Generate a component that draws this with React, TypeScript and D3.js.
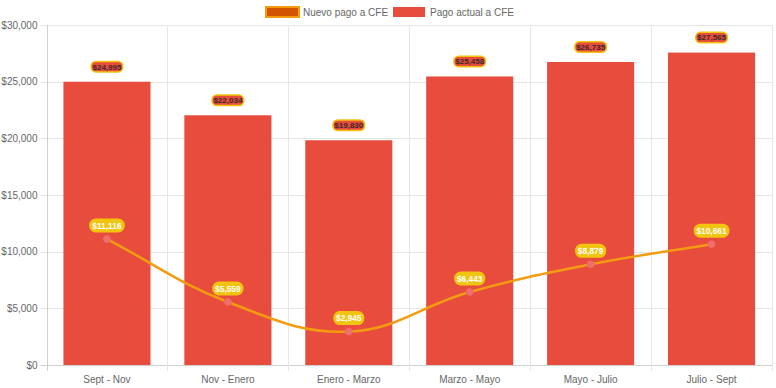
import React from "react";
import * as d3 from "d3";

const categories = ["Sept - Nov", "Nov - Enero", "Enero - Marzo", "Marzo - Mayo", "Mayo - Julio", "Julio - Sept"];
const pagoActual = [24995, 22034, 19830, 25458, 26735, 27565];
const nuevoPago = [11116, 5559, 2945, 6443, 8879, 10661];
const yTicks = [0, 5000, 10000, 15000, 20000, 25000, 30000];
const legendLabels = ["Nuevo pago a CFE", "Pago actual a CFE"];

const W = 776, H = 388;
const left = 46.5, right = 772, top = 25, bottom = 365;
const FONT = "'Liberation Sans', Arial, Helvetica, sans-serif";
const fmt = (v: number) => "$" + d3.format(",")(v);

function chartJsPath(pts: [number, number][], t = 0.4) {
  const n = pts.length;
  const cps = pts.map((cur, i) => {
    const prev = pts[Math.max(0, i - 1)];
    const next = pts[Math.min(n - 1, i + 1)];
    const d01 = Math.hypot(cur[0] - prev[0], cur[1] - prev[1]);
    const d12 = Math.hypot(next[0] - cur[0], next[1] - cur[1]);
    const s01 = d01 / (d01 + d12 || 1);
    const s12 = d12 / (d01 + d12 || 1);
    const fa = t * s01, fb = t * s12;
    return {
      p: [cur[0] - fa * (next[0] - prev[0]), cur[1] - fa * (next[1] - prev[1])],
      n: [cur[0] + fb * (next[0] - prev[0]), cur[1] + fb * (next[1] - prev[1])],
    };
  });
  const p = d3.path();
  p.moveTo(pts[0][0], pts[0][1]);
  for (let i = 1; i < n; i++) {
    p.bezierCurveTo(cps[i - 1].n[0], cps[i - 1].n[1], cps[i].p[0], cps[i].p[1], pts[i][0], pts[i][1]);
  }
  return p.toString();
}

function Label({ x, y, text, bg, border, color, fs, padX, h }: any) {
  const w = text.length * fs * 0.53 + padX;
  return (
    <g>
      <rect x={x - w / 2} y={y - h / 2} width={w} height={h} rx={h / 2 - 0.5} fill={bg} stroke={border} strokeWidth={1.5} />
      <text x={x} y={y} dy="0.36em" textAnchor="middle" fontFamily={FONT} fontWeight="bold" fontSize={fs} fill={color}>{text}</text>
    </g>
  );
}

export default function App() {
  const x = d3.scaleBand<string>().domain(categories).range([left, right]);
  const y = d3.scaleLinear().domain([0, 30000]).range([bottom, top]);
  const bw = x.bandwidth() * 0.72;
  const pts: [number, number][] = nuevoPago.map((v, i) => [x(categories[i])! + x.bandwidth() / 2, y(v)]);
  const grid = "#e6e6e6";
  return (
    <div style={{ position: "absolute", left: 0, top: 0 }}>
      <svg width={W} height={H} style={{ display: "block" }}>
        <rect width={W} height={H} fill="#fff" />
        {yTicks.map((t) => (
          <g key={t}>
            <line x1={left - 6} x2={right} y1={Math.round(y(t)) + 0.5} y2={Math.round(y(t)) + 0.5} stroke={t === 0 ? "#d0d0d0" : grid} />
            <text x={left - 9} y={y(t)} dy="0.35em" textAnchor="end" fontFamily={FONT} fontSize={10} fill="#666">{fmt(t)}</text>
          </g>
        ))}
        {categories.map((c, i) => (
          <line key={c} x1={Math.round(x(c)!) + 0.5} x2={Math.round(x(c)!) + 0.5} y1={top} y2={bottom + 6} stroke={i === 0 ? "#d0d0d0" : grid} />
        ))}
        <line x1={right + 0.5} x2={right + 0.5} y1={top} y2={bottom + 6} stroke={grid} />
        {pagoActual.map((v, i) => (
          <rect key={i} x={x(categories[i])! + (x.bandwidth() - bw) / 2} y={y(v)} width={bw} height={bottom - y(v)} fill="#e74c3c" />
        ))}
        {categories.map((c) => (
          <text key={c} x={x(c)! + x.bandwidth() / 2} y={379} dy="0.35em" textAnchor="middle" fontFamily={FONT} fontSize={10} fill="#666">{c}</text>
        ))}
        <path d={chartJsPath(pts)} fill="none" stroke="#f39c12" strokeWidth={2.5} />
        {pts.map((p, i) => (
          <circle key={i} cx={p[0]} cy={p[1]} r={3.5} fill="#f07070" stroke="#ec6a60" strokeWidth={1} />
        ))}
        {pagoActual.map((v, i) => (
          <Label key={"b" + i} x={x(categories[i])! + x.bandwidth() / 2} y={y(v) - 15} text={fmt(v)} bg="#e74c3c" border="#f1c40f" color="#3a2a2a" fs={8} padX={2} h={10.5} />
        ))}
        {pts.map((p, i) => (
          <Label key={"l" + i} x={p[0]} y={p[1] - 13.5} text={fmt(nuevoPago[i])} bg="#f1c40f" border="#f1c40f" color="#fff" fs={8.4} padX={3} h={12.5} />
        ))}
        <rect x={266} y={7} width={33} height={10} fill="#d35400" stroke="#f39c12" strokeWidth={2} />
        <text x={303} y={12} dy="0.35em" fontFamily={FONT} fontSize={10} fill="#666">{legendLabels[0]}</text>
        <rect x={393} y={7} width={32} height={10} fill="#e74c3c" />
        <text x={430} y={12} dy="0.35em" fontFamily={FONT} fontSize={10} fill="#666">{legendLabels[1]}</text>
      </svg>
    </div>
  );
}
